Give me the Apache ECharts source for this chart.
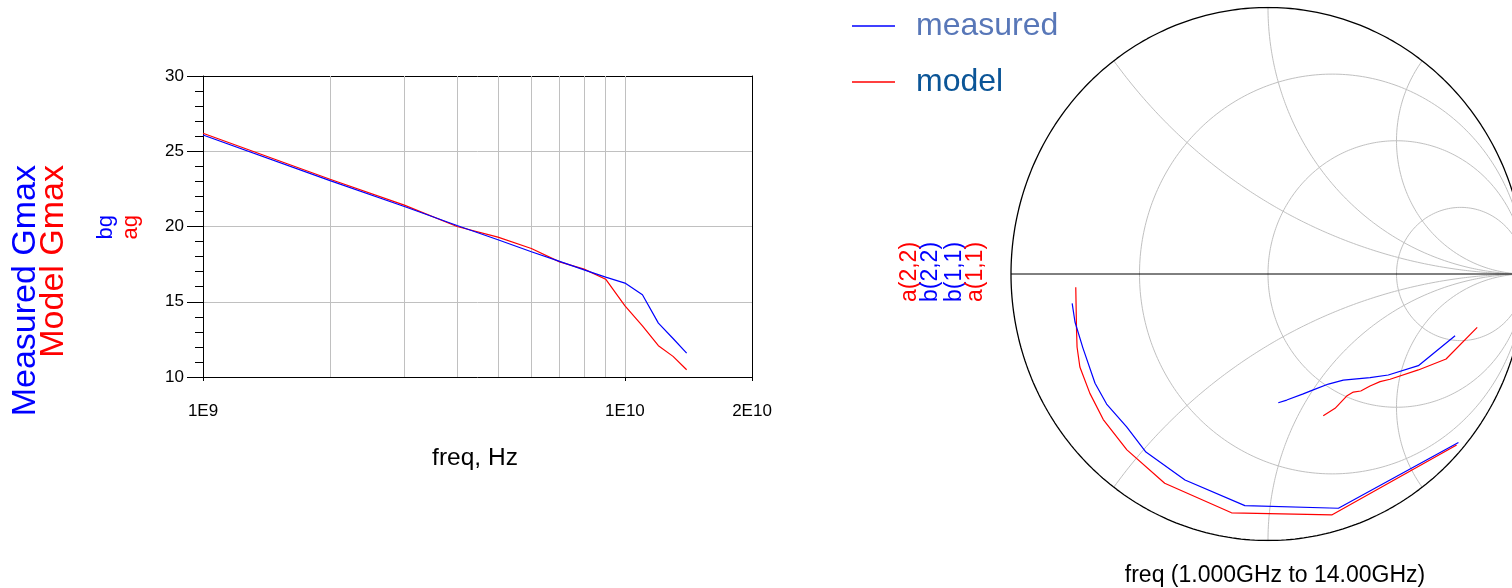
<!DOCTYPE html>
<html>
<head>
<meta charset="utf-8">
<script src="https://cdn.jsdelivr.net/npm/echarts@6/dist/echarts.min.js"></script>
<style>
html,body{margin:0;padding:0;background:#fff;}
#chart{width:1512px;height:588px;}
</style>
</head>
<body>
<div id="chart"></div>
<script>
// ---------- data ----------
const freqGHz = [1,2,3,4,5,6,7,8,9,10,11,12,13,14];
const measuredGmax = [26.08,23.05,21.33,20.07,19.12,18.32,17.68,17.12,16.64,16.24,15.46,13.58,12.56,11.59];
const modelGmax    = [26.20,23.14,21.42,20.00,19.29,18.54,17.65,17.17,16.50,14.73,13.40,12.08,11.37,10.48];

const xTickValues = [1e9, 1e10, 2e10];
const xTickLabels = ['1E9', '1E10', '2E10'];
const xGridValues = [2e9,3e9,4e9,5e9,6e9,7e9,8e9,9e9,1e10];
const yTickLabels = ['10','15','20','25','30'];

// Smith chart traces (reflection coefficient, real / imaginary)
const b11Re = [-0.762,-0.751,-0.720,-0.673,-0.628,-0.550,-0.475,-0.323,-0.090,0.274,0.741];
const b11Im = [-0.110,-0.180,-0.278,-0.410,-0.488,-0.574,-0.668,-0.773,-0.869,-0.879,-0.632];
const a11Re = [-0.748,-0.745,-0.743,-0.732,-0.693,-0.641,-0.549,-0.402,-0.142,0.248,0.734];
const a11Im = [-0.050,-0.210,-0.274,-0.349,-0.448,-0.546,-0.660,-0.785,-0.896,-0.904,-0.642];
const b22Re = [0.040,0.073,0.137,0.176,0.235,0.293,0.397,0.468,0.585,0.728];
const b22Im = [-0.483,-0.473,-0.450,-0.435,-0.413,-0.398,-0.389,-0.379,-0.344,-0.232];
const a22Re = [0.215,0.261,0.306,0.332,0.361,0.397,0.436,0.475,0.585,0.693,0.814];
const a22Im = [-0.532,-0.504,-0.458,-0.443,-0.439,-0.420,-0.404,-0.395,-0.360,-0.319,-0.200];

const smithR = [1/3, 1, 3];
const smithX = [0.5, 1, 2];

// ---------- helpers ----------
const FONT = "'Liberation Sans', Arial, sans-serif";
const BLUE = '#0000ff', RED = '#ff0000', GRID = '#c0c0c0';

// Smith chart layout: full chart is 514 px wide, but only 501 px fit in the window
const SMITH_LEFT = 1011, SMITH_FULL_W = 514, SMITH_VIS_W = 501;
const smithXMax = -1 + 2 * SMITH_VIS_W / SMITH_FULL_W;

function pairs(xs, ys){ return xs.map((v,i)=>[v, ys[i]]); }
function circlePts(cx, cy, rad){
  const p=[]; for(let i=0;i<=360;i++){ const a=i*Math.PI/180; p.push([cx+rad*Math.cos(a), cy+rad*Math.sin(a)]); } return p;
}
function reactArc(x){
  const p=[]; for(let i=0;i<300;i++){ const r=Math.tan(i/300*Math.PI/2); const d=(r+1)*(r+1)+x*x;
    p.push([(r*r+x*x-1)/d, 2*x/d]); } p.push([1,0]); return p;
}

const smithGridSeries = [];
smithR.forEach(r=>{
  smithGridSeries.push({type:'line', xAxisIndex:2, yAxisIndex:2, silent:true, symbol:'none', z:1,
    lineStyle:{color:GRID, width:1}, data:circlePts(r/(r+1),0,1/(r+1))});
});
smithX.forEach(x=>{
  [x,-x].forEach(v=>smithGridSeries.push({type:'line', xAxisIndex:2, yAxisIndex:2, silent:true, symbol:'none', z:1,
    lineStyle:{color:GRID, width:1}, data:reactArc(v)}));
});
smithGridSeries.push({type:'line', xAxisIndex:2, yAxisIndex:2, silent:true, symbol:'none', z:2,
  lineStyle:{color:'#000', width:1.3}, data:circlePts(0,0,1)});
smithGridSeries.push({type:'line', xAxisIndex:2, yAxisIndex:2, silent:true, symbol:'none', z:2,
  lineStyle:{color:'#000', width:1}, data:[[-1,0],[1,0]]});

function dataLine(name, color, data, xi, yi){
  return {name, type:'line', xAxisIndex:xi, yAxisIndex:yi, symbol:'none', showSymbol:false, z:5,
    lineStyle:{color, width:1.2}, itemStyle:{color}, data};
}

const chart = echarts.init(document.getElementById('chart'), null, {renderer:'canvas'});
const option = {
  animation:false,
  backgroundColor:'#fff',
  textStyle:{fontFamily:FONT},
  legend:{
    orient:'vertical', left:852, top:10, padding:0, itemWidth:43, itemHeight:1.4, itemGap:24, icon:'rect',
    textStyle:{fontSize:32, fontFamily:FONT, lineHeight:32, padding:[0,0,0,16]},
    data:[{name:'measured', icon:'rect', textStyle:{color:'#5877b8'}}, {name:'model', icon:'rect', textStyle:{color:'#0b5597'}}]
  },
  grid:[
    {left:203, top:76, width:549, height:301, containLabel:false},
    {left:SMITH_LEFT, top:7.5, width:SMITH_VIS_W, height:533}
  ],
  xAxis:[
    {gridIndex:0, type:'log', logBase:10, min:1e9, max:2e10, position:'bottom',
      axisLine:{lineStyle:{color:'#000', width:1}},
      axisTick:{show:true, customValues:xTickValues, length:4, lineStyle:{color:'#000'}},
      axisLabel:{customValues:xTickValues, margin:26, color:'#000', fontSize:17, fontFamily:FONT,
        formatter:(v)=>{ const i=xTickValues.findIndex(t=>Math.abs(t-v)/t<1e-6); return i>=0?xTickLabels[i]:''; }},
      splitLine:{show:false}, minorTick:{show:false}},
    {gridIndex:0, type:'log', logBase:10, min:1e9, max:2e10, position:'top',
      axisLine:{lineStyle:{color:'#000', width:1}}, axisTick:{show:false}, axisLabel:{show:false}, splitLine:{show:false}},
    {gridIndex:1, type:'value', min:-1, max:smithXMax, show:false}
  ],
  yAxis:[
    {gridIndex:0, type:'value', min:10, max:30, interval:5, position:'left',
      axisLine:{show:true, lineStyle:{color:'#000', width:1}},
      axisTick:{show:true, length:16, lineStyle:{color:'#000'}},
      minorTick:{show:true, splitNumber:5, length:8, lineStyle:{color:'#000'}},
      axisLabel:{margin:19, color:'#000', fontSize:17, fontFamily:FONT,
        formatter:(v)=>yTickLabels[Math.round((v-10)/5)]},
      splitLine:{show:true, showMinLine:false, showMaxLine:false, lineStyle:{color:GRID, width:1}}},
    {gridIndex:0, type:'value', min:10, max:30, position:'right',
      axisLine:{show:true, lineStyle:{color:'#000', width:1}}, axisTick:{show:false}, axisLabel:{show:false}, splitLine:{show:false}},
    {gridIndex:1, type:'value', min:-1, max:1, show:false}
  ],
  graphic:[
    {type:'text', x:26, y:165, rotation:Math.PI/2, silent:true,
      style:{text:'Measured Gmax', fontSize:34, fontFamily:FONT, fill:BLUE, align:'right', verticalAlign:'middle'}},
    {type:'text', x:54, y:165, rotation:Math.PI/2, silent:true,
      style:{text:'Model Gmax', fontSize:34, fontFamily:FONT, fill:RED, align:'right', verticalAlign:'middle'}},
    {type:'text', x:106, y:215, rotation:Math.PI/2, silent:true,
      style:{text:'bg', fontSize:22, fontFamily:FONT, fill:BLUE, align:'right', verticalAlign:'middle'}},
    {type:'text', x:131, y:215, rotation:Math.PI/2, silent:true,
      style:{text:'ag', fontSize:22, fontFamily:FONT, fill:RED, align:'right', verticalAlign:'middle'}},
    {type:'text', x:475, y:458, silent:true,
      style:{text:'freq, Hz', fontSize:24.5, fontFamily:FONT, fill:'#000', align:'center', verticalAlign:'middle'}},
    {type:'text', x:910, y:272, rotation:Math.PI/2, silent:true,
      style:{text:'a(2,2)', fontSize:23, fontFamily:FONT, fill:RED, align:'center', verticalAlign:'middle'}},
    {type:'text', x:931, y:272, rotation:Math.PI/2, silent:true,
      style:{text:'b(2,2)', fontSize:23, fontFamily:FONT, fill:BLUE, align:'center', verticalAlign:'middle'}},
    {type:'text', x:955, y:272, rotation:Math.PI/2, silent:true,
      style:{text:'b(1,1)', fontSize:23, fontFamily:FONT, fill:BLUE, align:'center', verticalAlign:'middle'}},
    {type:'text', x:976, y:272, rotation:Math.PI/2, silent:true,
      style:{text:'a(1,1)', fontSize:23, fontFamily:FONT, fill:RED, align:'center', verticalAlign:'middle'}},
    {type:'text', x:1275, y:576, silent:true,
      style:{text:'freq (1.000GHz to 14.00GHz)', fontSize:23, fontFamily:FONT, fill:'#000', align:'center', verticalAlign:'middle'}}
  ],
  series:[
    {type:'line', xAxisIndex:0, yAxisIndex:0, silent:true, symbol:'none', data:[], z:1,
      markLine:{silent:true, symbol:'none', label:{show:false}, lineStyle:{color:GRID, width:1, type:'solid'},
        data:xGridValues.map(v=>({xAxis:v}))}},
    dataLine('model', RED, freqGHz.map((f,i)=>[f*1e9, modelGmax[i]]), 0, 0),
    dataLine('measured', BLUE, freqGHz.map((f,i)=>[f*1e9, measuredGmax[i]]), 0, 0),
    ...smithGridSeries,
    dataLine('model', RED, pairs(a11Re, a11Im), 2, 2),
    dataLine('model', RED, pairs(a22Re, a22Im), 2, 2),
    dataLine('measured', BLUE, pairs(b11Re, b11Im), 2, 2),
    dataLine('measured', BLUE, pairs(b22Re, b22Im), 2, 2)
  ]
};
chart.setOption(option);
</script>
</body>
</html>
